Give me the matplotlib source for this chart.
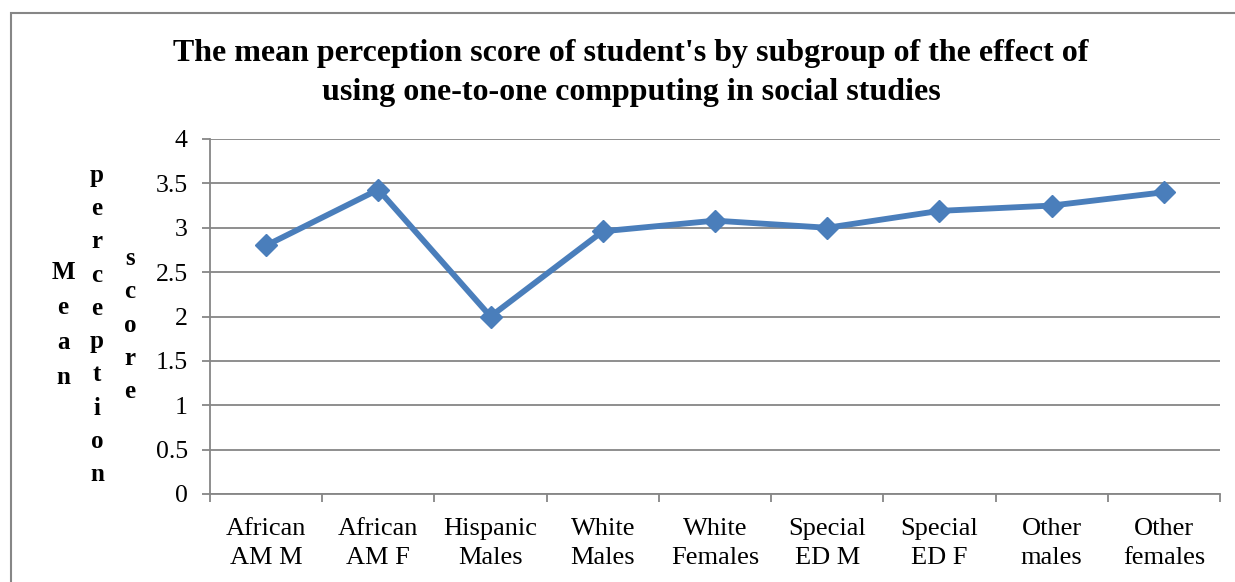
import matplotlib.pyplot as plt
from matplotlib.patches import Rectangle

# data
groups = ["African\nAM M", "African\nAM F", "Hispanic\nMales", "White\nMales", "White\nFemales",
          "Special\nED M", "Special\nED F", "Other\nmales", "Other\nfemales"]
scores = [2.8, 3.43, 2.0, 2.96, 3.08, 3.0, 3.19, 3.25, 3.4]
yticks = [0, 0.5, 1, 1.5, 2, 2.5, 3, 3.5, 4]
ylabel_words = ["Mean", "perception", "score"]

plt.rcParams['font.family'] = ['Liberation Serif', 'DejaVu Serif']
axcol = "#868686"

fig = plt.figure(figsize=(12.35, 5.82), dpi=100)
ax = fig.add_axes([210/1235, 1 - 494/582, 1010/1235, 355/582])

x = list(range(len(scores)))
ax.plot(x, scores, color="#4a7ebb", lw=4.2, marker="D", markersize=11, zorder=3)

ax.set_xlim(-0.5, len(scores) - 0.5)
ax.set_ylim(0, 4)
ax.set_yticks(yticks)
ax.set_yticklabels([f"{v:g}" for v in yticks], fontsize=18.5)
ax.yaxis.grid(True, color=axcol, lw=1.3)
ax.set_axisbelow(True)

# category boundaries as major ticks, labels on minor ticks
ax.set_xticks([i - 0.5 for i in range(len(scores) + 1)])
ax.set_xticklabels([])
ax.set_xticks(x, minor=True)
ax.set_xticklabels(groups, minor=True, fontsize=19, linespacing=1.42)
ax.tick_params(axis="x", which="major", length=6, color=axcol, width=1.3)
ax.tick_params(axis="x", which="minor", length=0, pad=17)
ax.tick_params(axis="y", length=6, color=axcol, width=1.3, pad=10)

for s in ["top", "right"]:
    ax.spines[s].set_visible(False)
for s in ["left", "bottom"]:
    ax.spines[s].set_color(axcol)
    ax.spines[s].set_linewidth(1.3)

fig.text(631/1235, 1 - 73/582,
         "The mean perception score of student's by subgroup of the effect of\n"
         "using one-to-one compputing in social studies",
         ha="center", va="center", fontsize=23, fontweight="bold", linespacing=1.42)

# stacked letters for the y label
for xpix, word, sp in zip([63, 97, 130], ylabel_words, [1.68, 1.57, 1.58]):
    fig.text(xpix/1235, 1 - 325/582, "\n".join(word), ha="center", va="center",
             fontsize=18, fontweight="bold", linespacing=sp)

# outer frame
fig.patches.append(Rectangle((11/1235, -0.1), 1.2, 1 - 13/582 + 0.1, transform=fig.transFigure,
                             fill=False, edgecolor=axcol, lw=1.5))

fig.savefig("out.png", dpi=100)
